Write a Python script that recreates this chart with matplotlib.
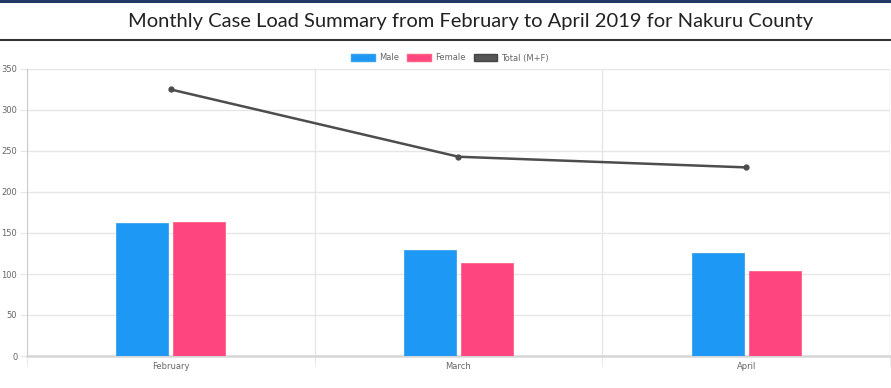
import matplotlib.pyplot as plt
import numpy as np
from matplotlib.patches import Patch

# Dane
miesiace = ['February', 'March', 'April']
male = [162, 129, 126]
female = [163, 114, 104]
total = [325, 243, 230]

fig = plt.figure(figsize=(8.91, 3.88), dpi=100)

# Pasek tytułu
fig.add_artist(plt.Line2D([0, 1], [1 - 1.2 / 388, 1 - 1.2 / 388], color='#1f3864', lw=2.2))
fig.add_artist(plt.Line2D([0, 1], [1 - 40 / 388, 1 - 40 / 388], color='#333333', lw=1.5))
fig.text(471 / 891, 1 - 21 / 388, 'Monthly Case Load Summary from February to April 2019 for Nakuru County',
         ha='center', va='center', fontsize=14.5, color='#222222', family='Lato')

ax = fig.add_axes([27 / 891, 1 - 356 / 388, (890 - 27) / 891, (356 - 69) / 388])

x = np.arange(len(miesiace))
w = 0.18
gap = 0.009
ax.bar(x - w / 2 - gap, male, w, color='#1e98f5', edgecolor='#36a2eb', lw=0.6, label='Male', zorder=3)
ax.bar(x + w / 2 + gap, female, w, color='#ff4580', edgecolor='#ff6384', lw=0.6, label='Female', zorder=3)
ax.plot(x, total, color='#4d4d4d', lw=1.8, marker='o', markersize=3.5, label='Total (M+F)', zorder=4)

ax.set_xlim(-0.5, 2.5)
ax.set_ylim(0, 350)
ax.set_yticks(range(0, 351, 50))
ax.set_xticks(x)
ax.set_xticklabels(miesiace)
ax.set_xticks([-0.5, 0.5, 1.5, 2.5], minor=True)

ax.grid(True, axis='y', color='#e6e6e6', lw=1, zorder=0)
ax.grid(True, axis='x', which='minor', color='#e6e6e6', lw=1, zorder=0)
ax.tick_params(axis='both', which='major', labelsize=6, colors='#666666', length=0, pad=4)
ax.tick_params(axis='y', length=5, color='#e6e6e6', pad=2)
ax.tick_params(axis='x', which='minor', length=7, color='#e6e6e6')

for s in ['top', 'right']:
    ax.spines[s].set_visible(False)
ax.spines['left'].set_color('#cccccc')
ax.spines['bottom'].set_color('#d6d6d6')
ax.spines['bottom'].set_linewidth(1.8)
ax.axvline(2.5, color='#e6e6e6', lw=1)

handles = [Patch(facecolor='#1e98f5', edgecolor='#36a2eb'),
           Patch(facecolor='#ff4580', edgecolor='#ff6384'),
           Patch(facecolor='#555555', edgecolor='#444444')]
fig.legend(handles, ['Male', 'Female', 'Total (M+F)'], loc='center', bbox_to_anchor=(450 / 891, 1 - 58 / 388),
           ncol=3, frameon=False, fontsize=6, handlelength=2.8, handleheight=0.9,
           columnspacing=1.0, handletextpad=0.5, labelcolor='#666666')

plt.savefig('out.png', dpi=100)
